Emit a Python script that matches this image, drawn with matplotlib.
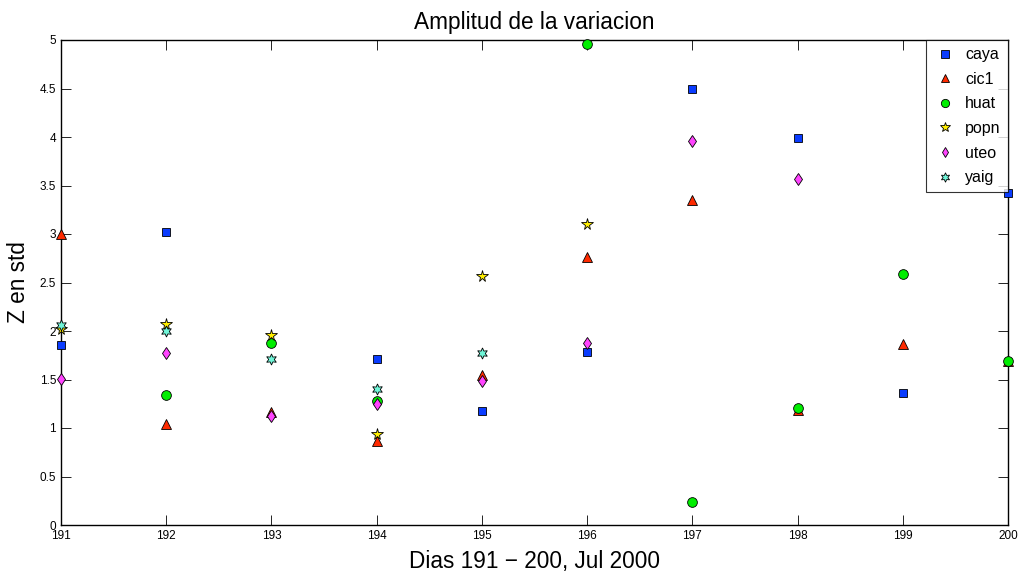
import numpy as np
import matplotlib
matplotlib.use("Agg")
import matplotlib.pyplot as plt

plt.rcParams['font.family'] = ['Liberation Sans', 'DejaVu Sans']

days = [191, 192, 193, 194, 195, 196, 197, 198, 199, 200]
nan = np.nan
caya = [1.86, 3.02, nan, 1.71, 1.18, 1.78, 4.49, 3.99, 1.36, 3.42]
cic1 = [3.00, 1.04, 1.17, 0.87, 1.55, 2.76, 3.35, 1.19, 1.87, 1.69]
huat = [nan, 1.34, 1.88, 1.28, nan, 4.96, 0.24, 1.21, 2.59, 1.69]
popn = [2.02, 2.07, 1.96, 0.94, 2.57, 3.10, nan, nan, nan, nan]
uteo = [1.51, 1.77, 1.12, 1.25, 1.48, 1.88, 3.96, 3.57, nan, nan]
yaig = [2.06, 2.00, 1.71, 1.40, 1.77, nan, nan, nan, nan, nan]

series = [
    ("caya", caya, 's', '#0a3cff', 6),
    ("cic1", cic1, '^', '#ff2a00', 7),
    ("huat", huat, 'o', '#00ee00', 7),
    ("popn", popn, '*', '#ffee00', 8.5),
    ("uteo", uteo, 'd', '#ff44ff', 6),
    ("yaig", yaig, (6, 1, 0), '#70f5d8', 8),
]

fig = plt.figure(figsize=(10.23, 5.83), dpi=100)
ax = fig.add_axes([61/1023, 58/583, 947/1023, 485/583])

for name, vals, mk, col, ms in series:
    ax.plot(days, vals, linestyle='none', marker=mk, markersize=ms,
            markerfacecolor=col, markeredgecolor='black', markeredgewidth=0.6,
            label=name, clip_on=False, zorder=3)

ax.set_xlim(191, 200)
ax.set_ylim(0, 5)
ax.set_xticks(days)
ax.set_yticks(np.arange(0, 5.01, 0.5))
ax.set_yticklabels(['0', '0.5', '1', '1.5', '2', '2.5', '3', '3.5', '4', '4.5', '5'])
ax.tick_params(direction='in', top=True, right=True, labelsize=8.5, length=7, width=0.6)
for s in ax.spines.values():
    s.set_linewidth(1.0)

ax.set_title("Amplitud de la variacion", fontsize=16.3, pad=8)
ax.set_xlabel("Dias 191 − 200, Jul 2000", fontsize=16.3, labelpad=6)
ax.set_ylabel("Z en std", fontsize=16.3, labelpad=7)

leg = ax.legend(loc='upper right', bbox_to_anchor=(1.0, 1.0), fontsize=11.5,
                frameon=True, fancybox=False, edgecolor='black',
                borderaxespad=0, handletextpad=0.6, labelspacing=0.6,
                borderpad=0.45, handlelength=1.4, numpoints=1, markerscale=0.85)
leg.get_frame().set_linewidth(0.8)
leg.set_zorder(5)

fig.savefig("out.png", dpi=100)
